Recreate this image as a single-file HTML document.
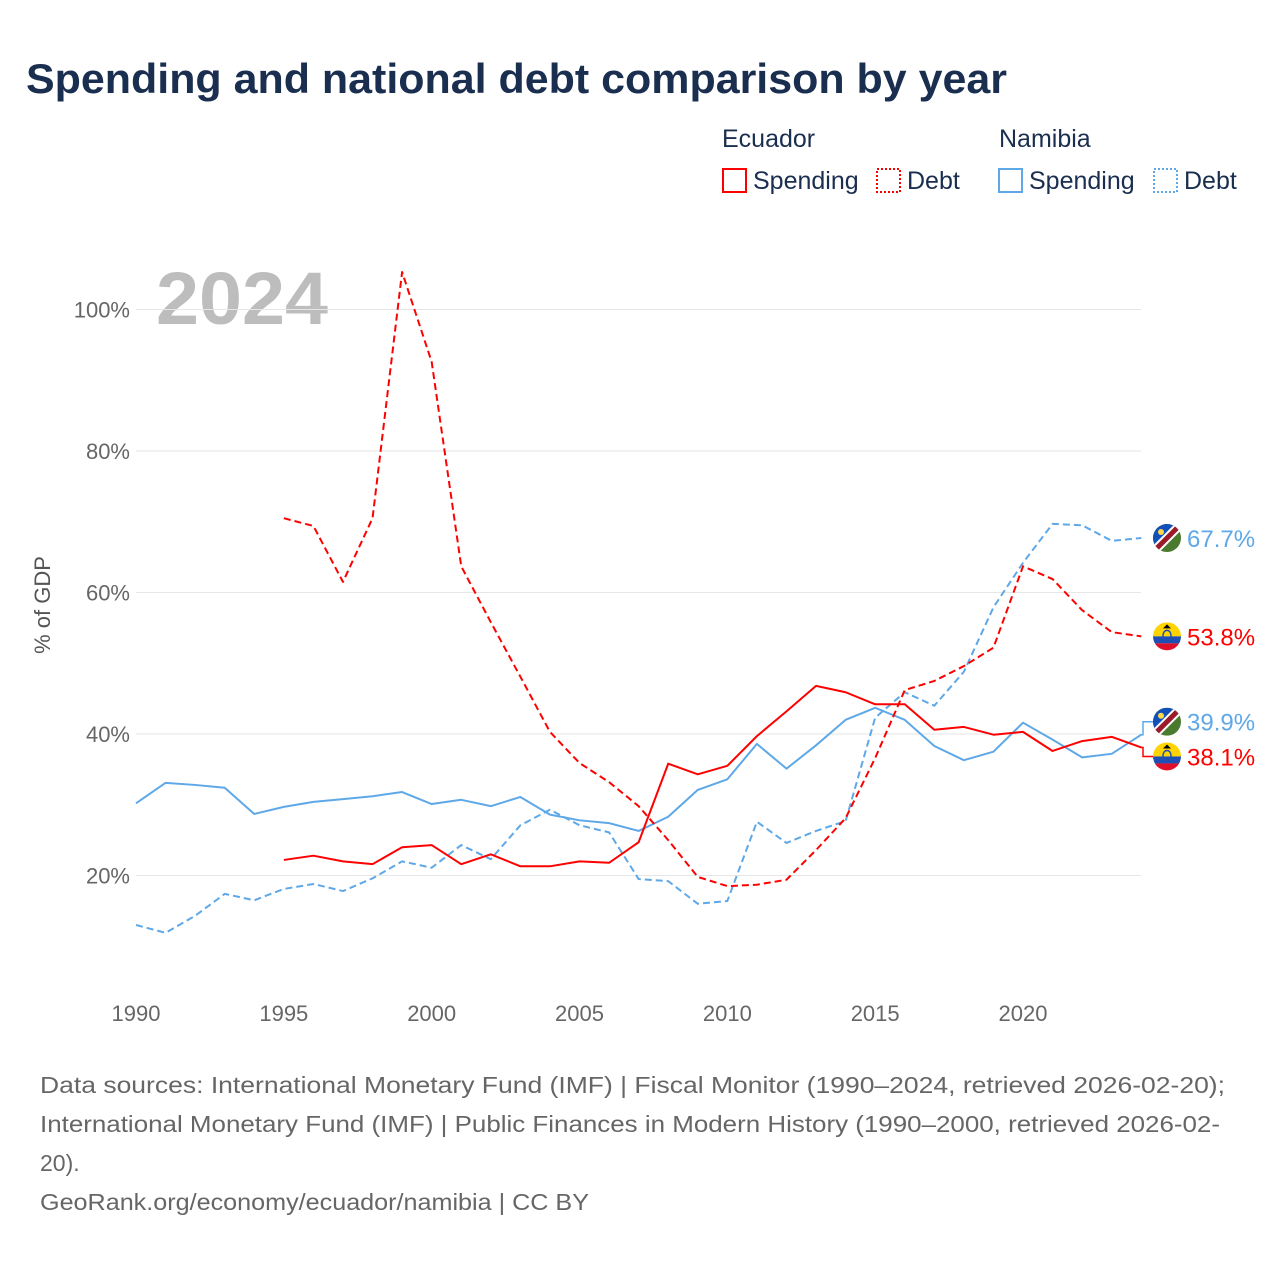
<!DOCTYPE html>
<html><head><meta charset="utf-8"><style>
body{margin:0;width:1280px;height:1280px;background:#fff;font-family:"Liberation Sans",sans-serif;overflow:hidden}
svg text{font-family:"Liberation Sans",sans-serif}
</style></head><body>
<svg id="c" width="1280" height="1280">
<defs>
<clipPath id="cc"><circle cx="0" cy="0" r="14"/></clipPath>
<g id="nam"><g clip-path="url(#cc)"><rect x="-14" y="-14" width="28" height="28" fill="#4a7a2e"/><polygon points="-14,-14 14,-14 -14,14" fill="#1050b8"/><line x1="-16" y1="16" x2="16" y2="-16" stroke="#fff" stroke-width="9"/><line x1="-16" y1="16" x2="16" y2="-16" stroke="#9b1a2a" stroke-width="5"/><circle cx="-6" cy="-6" r="3" fill="#ffd84a"/></g></g>
<g id="ecu"><g clip-path="url(#cc)"><rect x="-14" y="-14" width="28" height="14" fill="#ffd400"/><rect x="-14" y="0" width="28" height="7" fill="#1e4fb4"/><rect x="-14" y="7" width="28" height="7" fill="#e0102a"/><ellipse cx="0" cy="-1" rx="4" ry="5" fill="none" stroke="#1e4fb4" stroke-width="1.5"/><polygon points="-4,-8 4,-8 0,-12" fill="#000"/></g></g>
</defs>
<text x="26" y="93" font-size="42" font-weight="bold" fill="#1a2e4f" textLength="981" lengthAdjust="spacingAndGlyphs">Spending and national debt comparison by year</text>
<g font-size="25" fill="#1a2e4f">
<text x="722" y="147">Ecuador</text><text x="999" y="147">Namibia</text>
<g><rect x="723" y="169" width="23" height="23" fill="none" stroke="#f00" stroke-width="2"/><text x="753" y="189">Spending</text></g>
<g><rect x="877" y="169" width="23" height="23" fill="none" stroke="#f00" stroke-width="2" stroke-dasharray="2,2"/><text x="907" y="189">Debt</text></g>
<g><rect x="999" y="169" width="23" height="23" fill="none" stroke="#5ea8e8" stroke-width="2"/><text x="1029" y="189">Spending</text></g>
<g><rect x="1154" y="169" width="23" height="23" fill="none" stroke="#5ea8e8" stroke-width="2" stroke-dasharray="2,2"/><text x="1184" y="189">Debt</text></g>
</g>
<text x="156" y="324" font-size="74" font-weight="bold" fill="#bdbdbd" textLength="172" lengthAdjust="spacingAndGlyphs">2024</text>
<text transform="translate(50,605) rotate(-90)" text-anchor="middle" font-size="22" fill="#555">% of GDP</text>
<g id="grid"></g><g id="series"></g><g id="ends"></g>
<g font-size="23" fill="#666">
<text x="40" y="1093" textLength="1185" lengthAdjust="spacingAndGlyphs">Data sources: International Monetary Fund (IMF) | Fiscal Monitor (1990–2024, retrieved 2026-02-20);</text>
<text x="40" y="1132" textLength="1180" lengthAdjust="spacingAndGlyphs">International Monetary Fund (IMF) | Public Finances in Modern History (1990–2000, retrieved 2026-02-</text>
<text x="40" y="1171">20).</text>
<text x="40" y="1210" textLength="549" lengthAdjust="spacingAndGlyphs">GeoRank.org/economy/ecuador/namibia | CC BY</text>
</g>
</svg>
<script>
const yTicks=[20,40,60,80,100];
const xTicks=[1990,1995,2000,2005,2010,2015,2020];
const ecuYears=[1995,1996,1997,1998,1999,2000,2001,2002,2003,2004,2005,2006,2007,2008,2009,2010,2011,2012,2013,2014,2015,2016,2017,2018,2019,2020,2021,2022,2023,2024];
const ecuSpending=[22.2,22.8,22.0,21.6,24.0,24.3,21.6,23.0,21.3,21.3,22.0,21.8,24.7,35.8,34.3,35.5,39.7,43.2,46.8,45.9,44.2,44.2,40.6,41.0,39.9,40.3,37.6,39.0,39.6,38.1];
const ecuDebt=[70.5,69.4,61.5,70.5,105.3,92.6,63.7,55.8,48.1,40.3,35.9,33.2,29.8,25.0,19.8,18.5,18.7,19.4,23.6,28.1,36.6,46.2,47.5,49.6,52.2,63.7,61.9,57.5,54.4,53.8];
const namYears=[1990,1991,1992,1993,1994,1995,1996,1997,1998,1999,2000,2001,2002,2003,2004,2005,2006,2007,2008,2009,2010,2011,2012,2013,2014,2015,2016,2017,2018,2019,2020,2021,2022,2023,2024];
const namSpending=[30.2,33.1,32.8,32.4,28.7,29.7,30.4,30.8,31.2,31.8,30.1,30.7,29.8,31.1,28.6,27.8,27.4,26.3,28.3,32.1,33.6,38.6,35.1,38.4,42.0,43.7,42.0,38.3,36.3,37.5,41.6,39.2,36.7,37.2,39.9];
const namDebt=[13.0,11.9,14.3,17.4,16.5,18.1,18.8,17.8,19.6,22.0,21.1,24.3,22.3,27.1,29.3,27.1,26.1,19.5,19.2,16.0,16.4,27.6,24.6,26.3,27.7,42.3,45.9,44.0,48.8,57.9,64.2,69.7,69.5,67.3,67.7];
const X=y=>136+(y-1990)*29.567, Y=v=>1017-v*7.075;
const NS='http://www.w3.org/2000/svg';
function mk(t,a,p){const e=document.createElementNS(NS,t);for(const k in a)e.setAttribute(k,a[k]);p.appendChild(e);return e;}
const g=document.getElementById('grid');
yTicks.forEach(v=>{const l=mk('line',{x1:136,x2:1141,y1:Y(v),y2:Y(v),stroke:'#e6e6e6','stroke-width':1},g);


const t=mk('text',{x:130,y:Y(v)+8,'text-anchor':'end','font-size':22,fill:'#666'},g);t.textContent=v+'%';

});
xTicks.forEach(v=>{const t=mk('text',{x:X(v),y:1021,'text-anchor':'middle','font-size':22,fill:'#666'},g);t.textContent=v;

});
const s=document.getElementById('series');
function line(xs,vs,col,dash,name){const p=mk('polyline',{points:xs.map((y,i)=>X(y)+','+Y(vs[i])).join(' '),fill:'none',stroke:col,'stroke-width':2,'stroke-linejoin':'round'},s);
if(dash)p.setAttribute('stroke-dasharray','7,4');

}
line(namYears,namDebt,'#5ea8e8',true,'namibia-debt-line');
line(namYears,namSpending,'#5ea8e8',false,'namibia-spending-line');
line(ecuYears,ecuDebt,'#f00',true,'ecuador-debt-line');
line(ecuYears,ecuSpending,'#f00',false,'ecuador-spending-line');
const e=document.getElementById('ends');
const ends=[[namDebt[namDebt.length-1],'nam','#5ea8e8',0],[ecuDebt[ecuDebt.length-1],'ecu','#f00',0],[namSpending[namSpending.length-1],'nam','#5ea8e8',-13],[ecuSpending[ecuSpending.length-1],'ecu','#f00',9]];
ends.forEach((d,i)=>{const yv=Y(d[0]),ly=yv+d[3];
if(d[3]){mk('polyline',{points:`1141,${yv} 1143,${yv} 1143,${ly} 1153,${ly}`,fill:'none',stroke:d[2],'stroke-width':1.5},e);}
const u=mk('use',{href:'#'+d[1],x:1167,y:ly},e);


const t=mk('text',{x:1187,y:ly+9,'font-size':24,fill:d[2]},e);t.textContent=d[0].toFixed(1)+'%';

});
</script>
</body></html>
